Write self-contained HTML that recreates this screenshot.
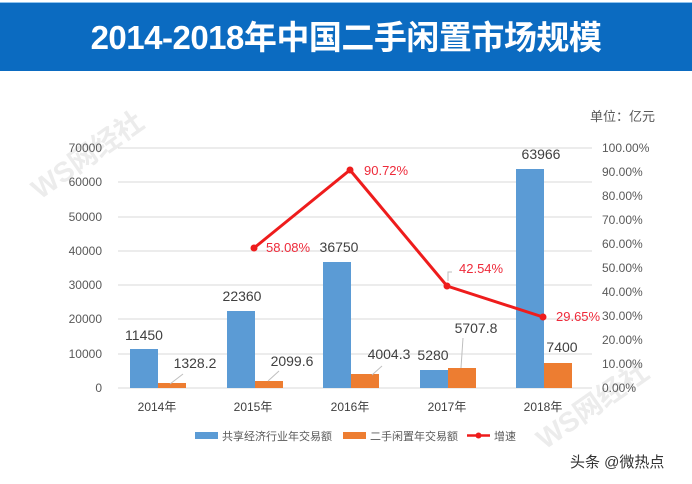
<!DOCTYPE html>
<html><head><meta charset="utf-8"><style>
body{margin:0;width:692px;height:484px;background:#fff;overflow:hidden;font-family:"Liberation Sans","Noto Sans CJK SC",sans-serif;}
.t{position:absolute;left:0;top:2px;width:692px;height:68px;background:#0b6bc1;color:#fff;font-weight:bold;font-size:33px;text-align:center;line-height:70px;letter-spacing:-0.5px;border-top:1px solid #8fc3ee}
</style></head><body>
<div class="t">2014-2018年中国二手闲置市场规模</div>
<svg width="692" height="484" style="position:absolute;left:0;top:0" font-family="Liberation Sans, Noto Sans CJK SC, sans-serif">
<g fill="#ececec" font-size="28" font-weight="bold">
<text x="40" y="200" transform="rotate(-35 40 200)">WS网经社</text>
<text x="545" y="450" transform="rotate(-35 545 450)">WS网经社</text>
</g>
<g stroke="#d9d9d9" stroke-width="1">
<line x1="118" x2="592" y1="148" y2="148"/><line x1="118" x2="592" y1="182" y2="182"/><line x1="118" x2="592" y1="217" y2="217"/><line x1="118" x2="592" y1="251" y2="251"/><line x1="118" x2="592" y1="285" y2="285"/><line x1="118" x2="592" y1="319" y2="319"/><line x1="118" x2="592" y1="354" y2="354"/><line x1="118" x2="592" y1="388" y2="388"/>
</g>
<g fill="#595959" font-size="12" text-anchor="end">
<text x="102" y="152">70000</text><text x="102" y="186">60000</text><text x="102" y="221">50000</text><text x="102" y="255">40000</text><text x="102" y="289">30000</text><text x="102" y="323">20000</text><text x="102" y="358">10000</text><text x="102" y="392">0</text>
</g>
<g fill="#595959" font-size="12">
<text x="602" y="152">100.00%</text><text x="602" y="176">90.00%</text><text x="602" y="200">80.00%</text><text x="602" y="224">70.00%</text><text x="602" y="248">60.00%</text><text x="602" y="272">50.00%</text><text x="602" y="296">40.00%</text><text x="602" y="320">30.00%</text><text x="602" y="344">20.00%</text><text x="602" y="368">10.00%</text><text x="602" y="392">0.00%</text>
<text x="590" y="121" font-size="13">单位：亿元</text>
</g>
<g fill="#5b9bd5">
<rect x="130" y="349" width="28" height="39"/><rect x="227" y="311" width="28" height="77"/><rect x="323" y="262" width="28" height="126"/><rect x="420" y="370" width="28" height="18"/><rect x="516" y="169" width="28" height="219"/>
</g>
<g fill="#ed7d31">
<rect x="158" y="383" width="28" height="5"/><rect x="255" y="381" width="28" height="7"/><rect x="351" y="374" width="28" height="14"/><rect x="448" y="368" width="28" height="20"/><rect x="544" y="363" width="28" height="25"/>
</g>
<g fill="#404040" font-size="14" text-anchor="middle">
<text x="144" y="340">11450</text><text x="242" y="301">22360</text><text x="339" y="252">36750</text><text x="433" y="360">5280</text><text x="541" y="159">63966</text>
<text x="195" y="368">1328.2</text><text x="292" y="366">2099.6</text><text x="389" y="359">4004.3</text><text x="476" y="333">5707.8</text><text x="562" y="352">7400</text>
</g>
<g stroke="#bfbfbf" fill="none"><path d="M170 384 L183 374"/><path d="M268 381 L279 371"/><path d="M372 375 L382 366"/><path d="M461 368 L463 338"/></g>
<polyline points="254,248 350,170 447,286 543,317" fill="none" stroke="#ee1c1c" stroke-width="3"/>
<g fill="#ee1c1c"><circle cx="254" cy="248" r="3.5"/><circle cx="350" cy="170" r="3.5"/><circle cx="447" cy="286" r="3.5"/><circle cx="543" cy="317" r="3.5"/></g>
<path d="M448 281 L448 272 L452 272" stroke="#bfbfbf" fill="none"/>
<g fill="#ee2a3a" font-size="13">
<text x="266" y="252">58.08%</text><text x="364" y="175">90.72%</text><text x="459" y="273">42.54%</text><text x="556" y="321">29.65%</text>
</g>
<g fill="#404040" font-size="12" text-anchor="middle">
<text x="157" y="411">2014年</text><text x="253" y="411">2015年</text><text x="350" y="411">2016年</text><text x="447" y="411">2017年</text><text x="543" y="411">2018年</text>
</g>
<rect x="195" y="432" width="23" height="7" fill="#5b9bd5"/>
<rect x="343" y="432" width="23" height="7" fill="#ed7d31"/>
<line x1="467" x2="490" y1="435.5" y2="435.5" stroke="#ee1c1c" stroke-width="2.5"/><circle cx="478.5" cy="435.5" r="3" fill="#ee1c1c"/>
<g fill="#595959" font-size="11"><text x="222" y="440">共享经济行业年交易额</text><text x="370" y="440">二手闲置年交易额</text><text x="494" y="440">增速</text></g>
<text x="570" y="467" font-size="15" fill="#333">头条 @微热点</text>
</svg>
</body></html>
